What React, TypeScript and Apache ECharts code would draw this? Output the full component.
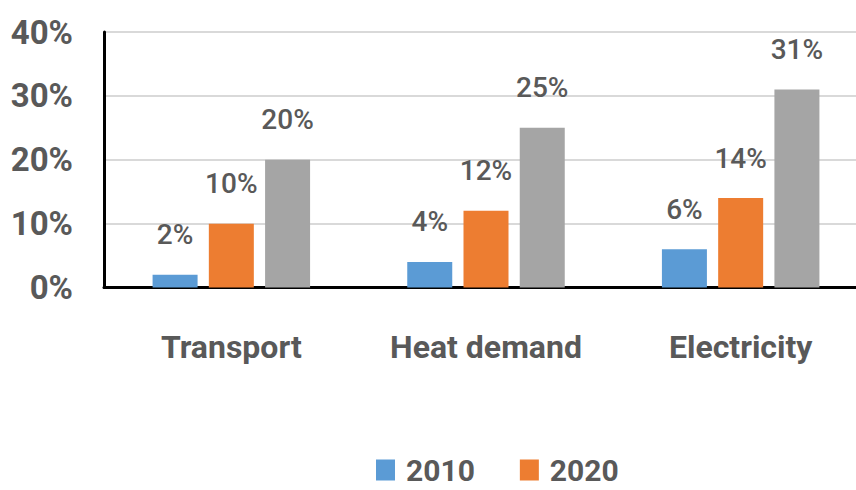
import React, { useEffect, useRef } from "react";
import * as echarts from "echarts";

const categories = ["Transport", "Heat demand", "Electricity"];
const series2010 = [2, 4, 6];
const series2020 = [10, 12, 14];
const seriesGray = [20, 25, 31];
const yTicks = [0, 10, 20, 30, 40];

const FONT = "Roboto, 'Liberation Sans', sans-serif";
const TXT = "#595959";

export default function App() {
  const ref = useRef<HTMLDivElement>(null);
  useEffect(() => {
    if (!ref.current) return;
    const chart = echarts.init(ref.current, null, { renderer: "svg" });
    const label = {
      show: true,
      position: "top",
      distance: 26,
      formatter: (p: any) => `${p.value}%`,
      color: TXT,
      fontFamily: FONT,
      fontSize: 28,
      fontWeight: 500,
    };
    chart.setOption({
      animation: false,
      backgroundColor: "#ffffff",
      textStyle: { fontFamily: FONT },
      grid: { left: 104, right: -12, top: 32, bottom: 202.5, outerBoundsMode: "none", containLabel: false },
      legend: {
        data: ["2010", "2020"],
        left: 371,
        top: 450,
        itemWidth: 19,
        itemHeight: 21,
        itemGap: 45,
        icon: "rect",
        textStyle: {
          color: TXT,
          fontFamily: FONT,
          fontSize: 30,
          lineHeight: 30,
          fontWeight: "bold",
          padding: [0, 0, 0, 6],
        },
      },
      xAxis: {
        type: "category",
        data: categories,
        axisLine: { show: true, lineStyle: { color: "#000000", width: 3 } },
        axisTick: { show: false },
        axisLabel: {
          interval: 0,
          margin: 43,
          color: TXT,
          fontFamily: FONT,
          fontSize: 32,
          fontWeight: "bold",
        },
      },
      yAxis: {
        type: "value",
        min: yTicks[0],
        max: yTicks[yTicks.length - 1],
        interval: 10,
        axisLine: { show: true, lineStyle: { color: "#000000", width: 3 } },
        axisTick: { show: false },
        splitLine: { lineStyle: { color: "#D9D9D9", width: 2 } },
        axisLabel: {
          margin: 31,
          color: TXT,
          fontFamily: FONT,
          fontSize: 33,
          fontWeight: "bold",
          padding: [0, 0, 6, 0],
          formatter: (v: number) => `${v}%`,
        },
      },
      series: [
        {
          name: "2010",
          type: "bar",
          data: series2010,
          barWidth: 45,
          barGap: "25%",
          itemStyle: { color: "#5B9BD5" },
          label,
        },
        {
          name: "2020",
          type: "bar",
          data: series2020,
          barWidth: 45,
          barGap: "25%",
          itemStyle: { color: "#ED7D31" },
          label,
        },
        {
          name: "2030",
          type: "bar",
          data: seriesGray,
          barWidth: 45,
          barGap: "25%",
          itemStyle: { color: "#A5A5A5" },
          label,
        },
      ],
    });
    return () => chart.dispose();
  }, []);
  return (
    <div
      ref={ref}
      style={{ position: "absolute", left: 0, top: 0, width: 856, height: 490, background: "#fff" }}
    />
  );
}
